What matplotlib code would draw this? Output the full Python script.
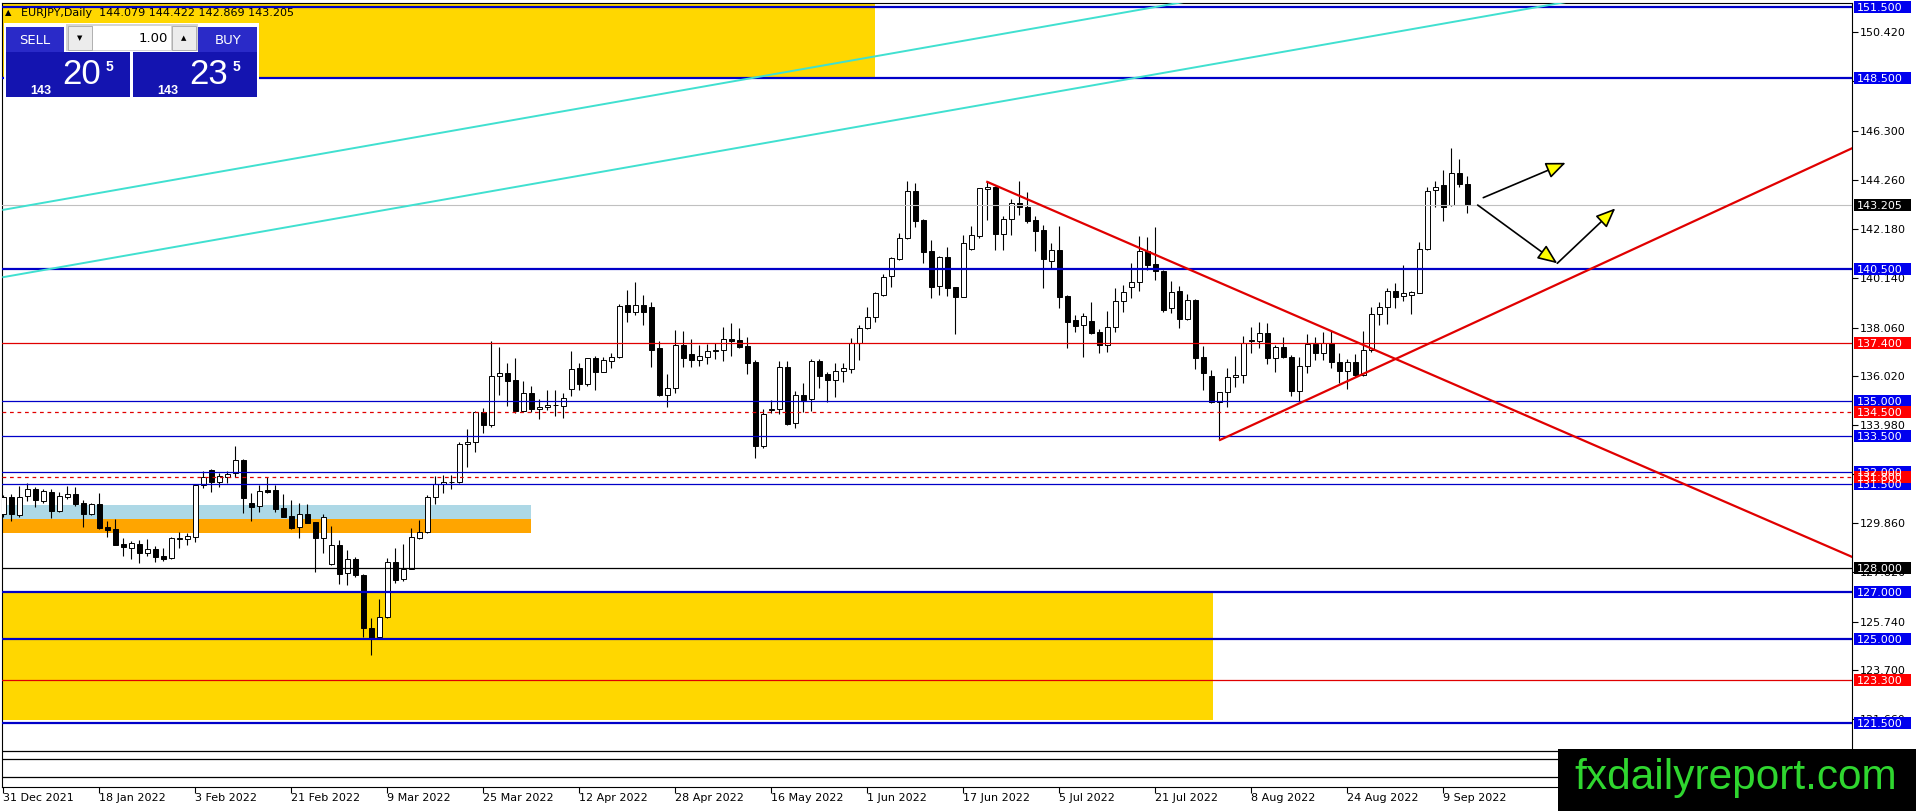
import numpy as np
import matplotlib
matplotlib.use('Agg')
import matplotlib.pyplot as plt
from matplotlib.patches import Rectangle, FancyArrowPatch
from matplotlib.transforms import blended_transform_factory

# EURJPY daily candles, one bar per trading day from 31 Dec 2021
opens = [130.25, 130.95, 130.21, 131.00, 131.28, 130.81, 131.17, 130.39, 130.97, 131.09,
         130.69, 130.25, 130.67, 129.72, 129.62, 128.99, 128.84, 128.99, 128.60, 128.78,
         128.49, 128.39, 129.20, 129.19, 129.30, 131.45, 132.09, 131.60, 131.81, 131.98,
         132.51, 130.69, 130.58, 131.25, 131.25, 130.48, 130.16, 129.69, 130.23, 129.91,
         129.23, 128.14, 128.93, 127.76, 128.36, 127.69, 125.46, 125.08, 125.95, 128.22,
         127.51, 127.94, 129.26, 129.48, 130.95, 131.49, 131.57, 131.57, 133.17, 133.25,
         134.51, 133.99, 136.04, 136.14, 135.86, 134.58, 135.30, 134.63, 134.72, 134.80,
         134.79, 135.47, 136.35, 135.68, 136.77, 136.21, 136.67, 136.84, 139.00, 138.72,
         139.00, 138.90, 137.19, 135.25, 135.51, 137.31, 136.95, 136.70, 136.84, 137.08,
         137.10, 137.58, 137.54, 137.29, 136.61, 133.11, 134.60, 134.63, 136.39, 134.05,
         135.22, 135.05, 136.66, 136.10, 135.86, 136.25, 136.31, 137.43, 138.03, 138.49,
         139.44, 140.22, 140.94, 141.80, 143.77, 142.56, 141.27, 139.81, 141.00, 139.74,
         139.35, 141.34, 141.89, 143.85, 143.96, 141.96, 142.59, 143.26, 143.11, 142.56,
         142.15, 140.85, 141.31, 139.38, 138.38, 138.15, 138.33, 137.86, 137.33, 138.07,
         139.18, 139.74, 139.98, 141.27, 140.72, 140.44, 138.86, 139.59, 138.43, 139.21,
         136.81, 136.03, 134.95, 135.35, 135.97, 136.06, 137.50, 137.51, 137.84, 136.80,
         137.23, 136.84, 135.41, 136.45, 137.37, 136.98, 137.40, 136.60, 136.25, 136.60,
         136.07, 137.12, 138.61, 138.91, 139.60, 139.38, 139.42, 139.52, 141.34, 143.82,
         144.02, 143.18, 144.52, 144.079]
highs = [131.04, 131.09, 131.42, 131.53, 131.39, 131.28, 131.28, 131.18, 131.42, 131.39,
         130.83, 130.72, 131.14, 129.95, 130.04, 129.23, 129.13, 129.16, 129.19, 128.91,
         128.84, 129.30, 129.49, 129.44, 131.49, 132.05, 132.15, 131.98, 132.06, 133.10,
         132.55, 131.14, 131.46, 131.81, 131.46, 131.09, 130.83, 130.69, 130.67, 129.93,
         130.23, 129.74, 129.16, 128.74, 128.46, 127.73, 125.88, 126.69, 128.42, 128.84,
         128.99, 129.67, 129.99, 131.03, 131.84, 131.89, 131.89, 133.26, 133.81, 134.56,
         134.70, 137.51, 137.23, 136.59, 136.77, 135.82, 135.61, 135.07, 135.44, 135.44,
         135.30, 137.09, 136.56, 136.80, 136.87, 136.81, 136.98, 139.04, 139.63, 139.95,
         139.42, 139.11, 137.49, 136.10, 137.94, 137.91, 137.58, 137.33, 137.37, 137.40,
         138.07, 138.26, 138.02, 137.68, 136.70, 134.63, 135.02, 136.66, 136.66, 135.40,
         135.72, 136.73, 136.74, 136.18, 136.59, 136.59, 137.61, 138.17, 138.91, 139.53,
         140.30, 141.03, 142.03, 144.20, 144.10, 142.59, 141.73, 141.06, 141.42, 139.77,
         141.94, 142.31, 143.92, 144.16, 143.99, 142.73, 143.43, 144.21, 143.75, 142.73,
         142.36, 141.59, 142.31, 139.42, 138.58, 138.65, 139.14, 137.98, 138.75, 139.70,
         139.84, 140.75, 141.89, 141.84, 142.26, 140.47, 140.01, 139.81, 139.46, 139.26,
         137.29, 136.28, 135.37, 136.35, 136.87, 137.71, 138.07, 138.31, 138.26, 137.33,
         137.65, 136.91, 136.84, 137.79, 137.65, 137.89, 137.91, 137.01, 136.73, 136.95,
         137.91, 138.93, 139.14, 139.70, 139.91, 140.68, 139.59, 141.66, 143.93, 144.21,
         144.66, 145.57, 145.11, 144.422]
lows = [130.11, 129.97, 130.14, 130.81, 130.55, 130.72, 130.09, 130.35, 130.89, 130.58,
        129.72, 130.21, 129.63, 129.30, 128.95, 128.49, 128.35, 128.18, 128.49, 128.25,
        128.29, 128.38, 128.81, 128.95, 129.09, 131.35, 131.18, 131.39, 131.56, 131.78,
        130.30, 129.97, 130.35, 131.11, 130.35, 130.14, 129.60, 129.26, 129.86, 127.83,
        128.63, 128.11, 127.30, 127.26, 127.62, 125.08, 124.34, 125.04, 125.90, 127.37,
        127.45, 127.94, 129.21, 129.44, 130.65, 131.11, 131.29, 131.53, 132.23, 132.86,
        133.65, 133.91, 135.23, 134.79, 134.46, 134.53, 134.52, 134.24, 134.60, 134.37,
        134.28, 135.19, 135.44, 135.62, 135.44, 136.18, 136.38, 136.80, 138.30, 138.58,
        138.16, 136.42, 135.19, 134.72, 135.33, 136.39, 136.42, 136.45, 136.53, 136.73,
        136.66, 136.87, 137.19, 136.11, 132.61, 133.03, 134.49, 134.42, 133.98, 133.86,
        134.51, 134.58, 135.51, 134.93, 135.16, 135.79, 136.17, 136.70, 138.00, 138.31,
        139.38, 139.77, 140.89, 141.77, 142.26, 140.75, 139.31, 139.42, 139.39, 137.77,
        139.35, 141.31, 141.80, 142.56, 141.31, 141.31, 141.94, 142.77, 142.45, 141.28,
        139.73, 140.54, 138.89, 137.19, 137.89, 136.81, 137.79, 136.98, 137.05, 137.89,
        138.70, 139.28, 139.60, 140.47, 140.05, 138.72, 138.65, 138.05, 138.38, 136.31,
        135.44, 134.91, 133.35, 134.74, 135.58, 135.72, 137.01, 137.19, 136.52, 136.21,
        136.80, 135.21, 135.00, 136.17, 136.70, 136.70, 136.35, 135.72, 135.47, 136.00,
        136.03, 137.05, 138.17, 138.19, 138.86, 139.19, 138.61, 139.49, 141.31, 143.10,
        142.54, 143.15, 143.96, 142.869]
closes = [130.95, 130.25, 130.97, 131.28, 130.83, 131.22, 130.39, 131.00, 131.09, 130.67,
          130.25, 130.67, 129.66, 129.58, 128.96, 128.88, 129.02, 128.60, 128.77, 128.46,
          128.38, 129.23, 129.24, 129.33, 131.45, 131.81, 131.60, 131.84, 131.92, 132.51,
          130.93, 130.55, 131.21, 131.18, 130.47, 130.14, 129.66, 130.23, 129.88, 129.23,
          130.14, 128.93, 127.75, 128.35, 127.68, 125.46, 125.04, 125.95, 128.22, 127.48,
          127.93, 129.27, 129.48, 130.95, 131.49, 131.59, 131.59, 133.18, 133.25, 134.51,
          133.99, 136.04, 136.14, 135.83, 134.58, 135.30, 134.63, 134.74, 134.81, 134.81,
          135.09, 136.34, 135.68, 136.77, 136.21, 136.70, 136.84, 138.96, 138.72, 139.00,
          138.72, 137.12, 135.23, 135.51, 137.31, 136.80, 136.70, 136.87, 137.08, 137.10,
          137.56, 137.51, 137.26, 136.59, 133.11, 134.42, 134.63, 136.39, 134.02, 135.22,
          135.02, 136.66, 136.04, 135.86, 136.25, 136.35, 137.43, 138.03, 138.49, 139.49,
          140.16, 140.96, 141.80, 143.77, 142.54, 141.24, 139.77, 141.03, 139.73, 139.35,
          141.59, 141.92, 143.89, 143.93, 141.96, 142.59, 143.26, 143.10, 142.54, 142.12,
          140.92, 141.31, 139.35, 138.31, 138.14, 138.54, 137.84, 137.33, 138.07, 139.18,
          139.56, 139.98, 141.27, 140.68, 140.41, 138.79, 139.56, 138.43, 139.21, 136.80,
          136.17, 134.95, 135.35, 135.97, 136.06, 137.40, 137.52, 137.82, 136.80, 137.23,
          136.81, 135.41, 136.45, 137.37, 136.98, 137.40, 136.60, 136.25, 136.60, 136.07,
          137.12, 138.61, 138.91, 139.60, 139.35, 139.49, 139.53, 141.34, 143.79, 143.96,
          143.10, 144.52, 144.06, 143.205]

dateLabels = ['31 Dec 2021', '18 Jan 2022', '3 Feb 2022', '21 Feb 2022', '9 Mar 2022',
              '25 Mar 2022', '12 Apr 2022', '28 Apr 2022', '16 May 2022', '1 Jun 2022',
              '17 Jun 2022', '5 Jul 2022', '21 Jul 2022', '8 Aug 2022', '24 Aug 2022',
              '9 Sep 2022']
barsPerLabel = 12

# right scale ticks; the ones hidden behind level labels get no text
priceTicks = [150.42, 148.38, 146.30, 144.26, 142.18, 140.14, 138.06, 136.02,
              133.98, 131.94, 129.86, 127.82, 125.74, 123.70, 121.66, 119.62]
hiddenTicks = [148.38, 131.94, 119.62]

# horizontal levels drawn on the chart
bluePrimary = [151.5, 148.5, 140.5, 127.0, 125.0, 121.5]
blueSecondary = [135.0, 133.5, 132.0, 131.5]
redLevels = [137.4, 123.3]
redDashed = [134.5, 131.8]
blackLevels = [128.0, 120.3, 120.0, 119.22]
blackLabelled = [128.0]
currentPrice = 143.205

# rectangles: (first bar, last bar, low price, high price)
zoneTop = (-1, 108.96, 148.5, 152.5)
zoneBottom = (-1, 151.2, 121.62, 127.0)
zoneBlue = (-1, 65.96, 130.04, 130.62)
zoneOrange = (-1, 65.96, 129.46, 130.04)

# trend lines: bars and prices of the two anchors
channelUpperBars, channelUpperPrices = [0, 231], [142.99, 156.62]
channelLowerBars, channelLowerPrices = [0, 231], [140.17, 153.80]
downTrendBars, downTrendPrices = [123, 231.1], [144.16, 128.45]
upTrendBars, upTrendPrices = [152.1, 231.1], [133.35, 145.57]

# projection arrows (bar, price) start -> end
arrowStarts = [(185.0, 143.50), (184.3, 143.19), (194.25, 140.75)]
arrowEnds = [(195.3, 144.96), (194.25, 140.75), (201.5, 143.05)]

W, H = 1916, 811
BLUE = '#0000c8'
RED = '#e00000'

plt.rcParams['font.family'] = ['DejaVu Sans']

fig = plt.figure(figsize=(W / 100, H / 100), dpi=100)
fig.patch.set_facecolor('white')
ax = fig.add_axes([2 / W, 1 - 787 / H, 1850 / W, 784.5 / H])
yMin, yMax = 118.81, 151.676
ax.set_xlim(-0.16, 231.09)
ax.set_ylim(yMin, yMax)

#zones in the background
for zone, color in [(zoneTop, '#ffd700'), (zoneBottom, '#ffd700'),
                    (zoneBlue, '#add8e6'), (zoneOrange, '#ffa500')]:
    ax.add_patch(Rectangle((zone[0], zone[2]), zone[1] - zone[0], zone[3] - zone[2],
                           facecolor=color, edgecolor='none', zorder=1))

#candles
x = np.arange(len(opens))
o = np.array(opens)
c = np.array(closes)
ax.vlines(x, lows, highs, color='black', linewidth=0.8, zorder=3)
bodyColors = ['white' if c[i] >= o[i] else 'black' for i in range(len(o))]
ax.bar(x, np.abs(c - o), bottom=np.minimum(o, c), width=0.6, color=bodyColors,
       edgecolor='black', linewidth=0.7, zorder=4)

#horizontal levels
ax.axhline(currentPrice, color='#c0c0c0', linewidth=0.8, zorder=5)
for level in bluePrimary:
    ax.axhline(level, color=BLUE, linewidth=1.6, zorder=5)
for level in blueSecondary:
    ax.axhline(level, color=BLUE, linewidth=0.9, zorder=5)
for level in redLevels:
    ax.axhline(level, color=RED, linewidth=0.9, zorder=5)
for level in redDashed:
    ax.axhline(level, color=RED, linewidth=0.9, linestyle=(0, (3, 3)), zorder=5)
for level in blackLevels:
    ax.axhline(level, color='black', linewidth=0.9, zorder=5)

#trend lines
ax.plot(channelUpperBars, channelUpperPrices, color='#40e0d0', linewidth=1.4, zorder=5)
ax.plot(channelLowerBars, channelLowerPrices, color='#40e0d0', linewidth=1.4, zorder=5)
ax.plot(downTrendBars, downTrendPrices, color=RED, linewidth=1.6, zorder=6)
ax.plot(upTrendBars, upTrendPrices, color=RED, linewidth=1.6, zorder=6)

for start, end in zip(arrowStarts, arrowEnds):
    ax.add_patch(FancyArrowPatch(start, end, arrowstyle='-|>,head_length=0.6,head_width=0.25',
                                 mutation_scale=20, facecolor='yellow', edgecolor='black',
                                 linewidth=1.2, shrinkA=0, shrinkB=0, zorder=7))

#axes, ticks
for spine in ax.spines.values():
    spine.set_color('black')
    spine.set_linewidth(0.8)
tickText = ['' if p in hiddenTicks else '%.3f' % p for p in priceTicks]
ax.set_yticks(priceTicks, tickText)
ax.tick_params(axis='y', left=False, right=True, labelleft=False, labelright=True,
               direction='out', length=4, width=0.8, pad=1.5, labelsize=8)
tickBars = [i * barsPerLabel for i in range(len(dateLabels))]
ax.set_xticks(tickBars, dateLabels)
ax.tick_params(axis='x', direction='out', length=4, width=0.8, pad=0.5, labelsize=8)
for label in ax.get_xticklabels():
    label.set_horizontalalignment('left')

#price labels on the right scale
labelTrans = blended_transform_factory(ax.transAxes, ax.transData)
axW = ax.bbox.width
pxPerPrice = ax.bbox.height / (yMax - yMin)
boxHalf = 6 / pxPerPrice

def priceLabel(price, color):
    ax.add_patch(Rectangle((1 + 2 / axW, price - boxHalf), 57 / axW, 2 * boxHalf,
                           transform=labelTrans, facecolor=color, edgecolor='none',
                           clip_on=False, zorder=8))
    ax.text(1 + 5 / axW, price, '%.3f' % price, transform=labelTrans, color='white',
            fontsize=8, ha='left', va='center_baseline', clip_on=False, zorder=9)

for level in blueSecondary + bluePrimary:
    priceLabel(level, '#0000ee')
for level in redLevels + redDashed:
    priceLabel(level, '#ff0000')
for level in blackLabelled:
    priceLabel(level, 'black')
priceLabel(currentPrice, 'black')

#trade panel and header (pixel positions)
def figRect(x0, y0, x1, y1, color, edge='none', lw=0):
    fig.add_artist(Rectangle((x0 / W, 1 - y1 / H), (x1 - x0) / W, (y1 - y0) / H,
                             transform=fig.transFigure, facecolor=color, edgecolor=edge,
                             linewidth=lw, zorder=10))

def figText(xp, yp, s, **kw):
    fig.text(xp / W, 1 - yp / H, s, zorder=11, **kw)

figText(5, 13, '\u25b2', fontsize=6, va='center', color='black')
figText(21, 13, 'EURJPY,Daily  144.079 144.422 142.869 143.205', fontsize=8, va='center',
        color='black')

figRect(4, 23, 259, 99, 'white')
figRect(66, 24, 198, 51, '#d4d4d4')
figRect(93, 26, 171, 50, 'white')
figRect(68, 26, 92, 50, '#ececec', '#a8a8a8', 0.6)
figRect(172, 26, 196, 50, '#ececec', '#a8a8a8', 0.6)
figText(80, 38, '\u25bc', fontsize=5, ha='center', va='center', color='black')
figText(184, 38, '\u25b2', fontsize=5, ha='center', va='center', color='black')
figText(168, 38, '1.00', fontsize=9.5, ha='right', va='center', color='black')
figRect(6, 27, 64, 52, '#2a2ac8')
figRect(198, 27, 257, 52, '#2a2ac8')
figText(35, 40, 'SELL', fontsize=9.5, ha='center', va='center', color='white')
figText(228, 40, 'BUY', fontsize=9.5, ha='center', va='center', color='white')
figRect(6, 52, 130, 97, '#1414b0')
figRect(133, 52, 257, 97, '#1414b0')
for x0, big in [(6, '20'), (133, '23')]:
    figText(x0 + 35, 91, '143', fontsize=9, fontweight='bold', ha='center', va='center',
            color='white', family='Liberation Sans')
    figText(x0 + 76, 74, big, fontsize=25, ha='center', va='center', color='white',
            family='Liberation Sans')
    figText(x0 + 103, 67, '5', fontsize=10, fontweight='bold', ha='center', va='center',
            color='white', family='Liberation Sans')

#watermark
figRect(1558, 749, 1916, 811, 'black')
figText(1736, 789, 'fxdailyreport.com', fontsize=30.5, family='Liberation Sans',
        color='#2fd62f', ha='center', va='baseline')

fig.savefig('out.png', dpi=100, facecolor='white')
